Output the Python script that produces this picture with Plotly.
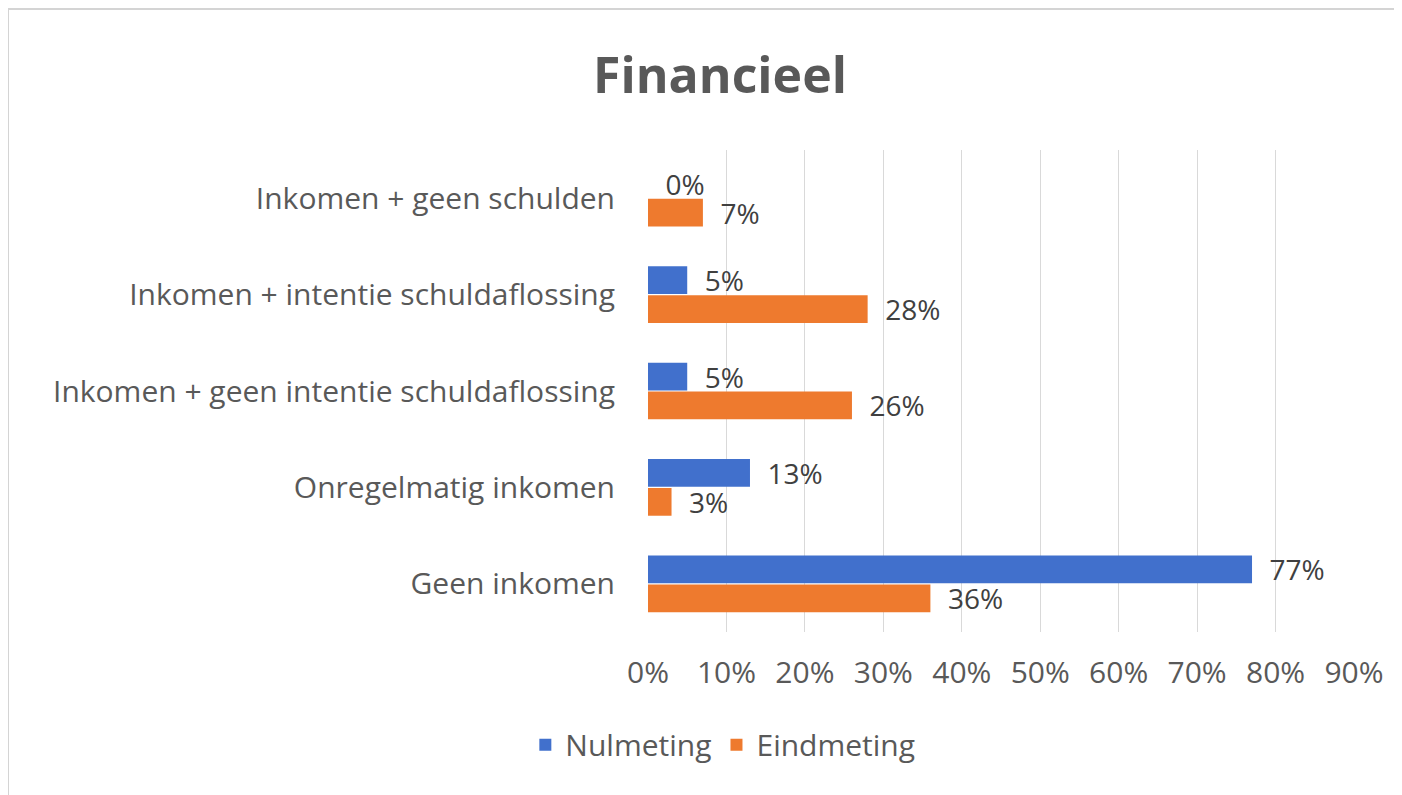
import plotly.graph_objects as go

# categories listed top to bottom (y axis reversed)
categories = [
    "Inkomen + geen schulden",
    "Inkomen + intentie schuldaflossing",
    "Inkomen + geen intentie schuldaflossing",
    "Onregelmatig inkomen",
    "Geen inkomen",
]
nulmeting = [0, 5, 5, 13, 77]
eindmeting = [7, 28, 26, 3, 36]
x_ticks = [0, 10, 20, 30, 40, 50, 60, 70, 80, 90]

BLUE = "#4170cc"
ORANGE = "#ee7a2e"
GREY_TXT = "#595959"
FONT = "Open Sans"

# the page has an 8px body margin, so the figure is 8px smaller than the window
W, H = 1394, 787

fig = go.Figure()
for name, vals, color in [("Nulmeting", nulmeting, BLUE), ("Eindmeting", eindmeting, ORANGE)]:
    fig.add_trace(go.Bar(
        y=categories, x=vals, orientation="h", name=name,
        marker=dict(color=color, line=dict(width=0)),
        text=[f"\u00a0\u00a0{v}%" for v in vals],
        textposition="outside", cliponaxis=False, constraintext="none",
        textfont=dict(size=28, color="#404040", family=FONT),
    ))

fig.update_layout(
    width=W, height=H,
    title=dict(text="<b>Financieel</b>", x=712 / W, xanchor="center",
               y=1 - 67 / H, yanchor="middle",
               font=dict(size=50, color=GREY_TXT, family=FONT)),
    barmode="group", bargap=0.4, bargroupgap=0.04,
    xaxis=dict(range=[0, 90], tickvals=x_ticks,
               ticktext=[f"{t}%" for t in x_ticks],
               showgrid=True, gridcolor="#d9d9d9", gridwidth=1,
               zeroline=False, showline=False, ticks="",
               ticklabelstandoff=20,
               tickfont=dict(size=30, color=GREY_TXT, family=FONT)),
    yaxis=dict(autorange="reversed", showgrid=False, zeroline=False,
               showline=False, ticks="", ticklabelstandoff=32,
               tickfont=dict(size=30, color=GREY_TXT, family=FONT)),
    legend=dict(orientation="h", x=0.106, xanchor="center",
                y=-0.234, yanchor="middle",
                font=dict(size=30, color=GREY_TXT, family=FONT),
                itemwidth=30, traceorder="normal"),
    plot_bgcolor="white", paper_bgcolor="white",
    margin=dict(l=640, r=48, t=142, b=163),
    shapes=[
        dict(type="line", xref="paper", yref="paper",
             x0=-0.9065, x1=1.08, y0=1.2925, y1=1.2925,
             line=dict(color="#d4d4d4", width=2)),
        dict(type="line", xref="paper", yref="paper",
             x0=-0.9065, x1=-0.9065, y0=1.2925, y1=-0.36,
             line=dict(color="#d4d4d4", width=2)),
    ],
)

fig.write_html("out.html")
